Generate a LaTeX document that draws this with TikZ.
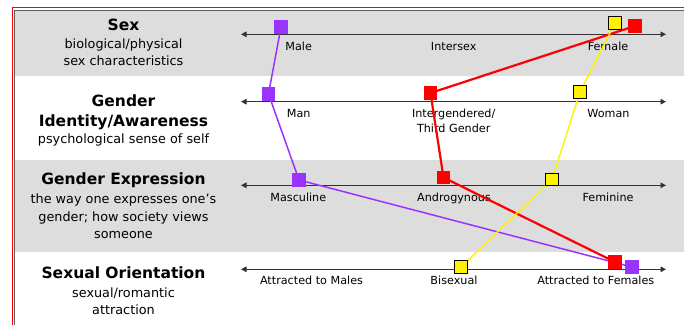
\documentclass[tikz,border=0pt]{standalone}
\usepackage{fontspec}
\setmainfont{DejaVu Sans}
\usetikzlibrary{arrows.meta}
\pgfdeclarelayer{back}
\pgfdeclarelayer{links}
\pgfsetlayers{back,links,main}
\definecolor{bandgray}{RGB}{221,221,221}
\definecolor{rulegray}{RGB}{95,95,95}
\definecolor{axisgray}{RGB}{50,50,50}
\definecolor{vpurple}{RGB}{153,51,255}
\begin{document}
\begin{tikzpicture}[x=1pt,y=-1pt,
  band/.style={fill=bandgray,draw=none},
  axisline/.style={draw=axisgray,line width=0.9pt,
    {Triangle[length=5.5pt,width=5.5pt]}-{Triangle[length=5.5pt,width=5.5pt]}},
  tick/.style={font=\fontsize{11.2}{13.5}\selectfont,anchor=base,inner sep=0pt},
  title/.style={font=\bfseries\fontsize{15.5}{18}\selectfont,anchor=base,inner sep=0pt},
  sub/.style={font=\fontsize{12.8}{15}\selectfont,anchor=base,inner sep=0pt},
  box/.style={minimum size=13.5pt,inner sep=0pt,draw=none},
  pbox/.style={box,fill=vpurple},
  rbox/.style={box,fill=red},
  ybox/.style={box,minimum size=12.5pt,fill=yellow,draw=black,line width=1.4pt},
  plink/.style={draw=vpurple,line width=1.5pt},
  rlink/.style={draw=red,line width=2.2pt},
  ylink/.style={draw=yellow,line width=1.4pt}]
\useasboundingbox (0,0) rectangle (684,324);
\clip (0,0) rectangle (684,324);

% ---------- table background, rows and borders ----------
\begin{pgfonlayer}{back}
  \fill[white] (0,0) rectangle (684,324);
  \fill[band] (14.5,10) rectangle (700,76);
  \fill[band] (14.5,160) rectangle (700,252);
  \draw[rulegray,line width=0.8pt] (14.5,340) -- (14.5,10) -- (700,10);
  \draw[red,line width=1.6pt] (12.3,340) -- (12.3,7.5) -- (700,7.5);

  % axes
  \coordinate (a1l) at (241,34.3);  \coordinate (a1r) at (666,34.3);
  \coordinate (a2l) at (241,101.7); \coordinate (a2r) at (666,101.7);
  \coordinate (a3l) at (241,185.3); \coordinate (a3r) at (666,185.3);
  \coordinate (a4l) at (241,269.3); \coordinate (a4r) at (666,269.3);
  \draw[axisline] (a1l) -- (a1r);
  \draw[axisline] (a2l) -- (a2r);
  \draw[axisline] (a3l) -- (a3r);
  \draw[axisline] (a4l) -- (a4r);

  % row titles
  \node[title] (t1)  at (123.5,30)    {Sex};
  \node[sub]   (t1a) at (123.5,48.3)  {biological/physical};
  \node[sub]   (t1b) at (123.5,65.5)  {sex characteristics};
  \node[title] (t2)  at (123.5,106)   {Gender};
  \node[title] (t2a) at (123.5,126)   {Identity/Awareness};
  \node[sub]   (t2b) at (123.5,143.3) {psychological sense of self};
  \node[title] (t3)  at (123.5,184.7) {Gender Expression};
  \node[sub]   (t3a) at (123.5,203.7) {the way one expresses one’s};
  \node[sub]   (t3b) at (123.5,221.3) {gender; how society views};
  \node[sub]   (t3c) at (123.5,238.5) {someone};
  \node[title] (t4)  at (123.5,278.7) {Sexual Orientation};
  \node[sub]   (t4a) at (123.5,297)   {sexual/romantic};
  \node[sub]   (t4b) at (123.5,314.7) {attraction};

  % axis labels
  \node[tick] (l11) at (298.7,50.7)  {Male};
  \node[tick] (l12) at (453.7,50.7)  {Intersex};
  \node[tick] (l13) at (608,50.7)    {Female};
  \node[tick] (l21) at (298.7,117.7) {Man};
  \node[tick] (l22) at (453.7,117.7) {Intergendered/};
  \node[tick] (l22b) at (453.7,132.7) {Third Gender};
  \node[tick] (l23) at (608.5,117.7) {Woman};
  \node[tick] (l31) at (298.3,201.3) {Masculine};
  \node[tick] (l32) at (454,201.3)   {Androgynous};
  \node[tick] (l33) at (608,201.3)   {Feminine};
  \node[tick] (l41) at (311.5,284.7) {Attracted to Males};
  \node[tick] (l42) at (454,284.7)   {Bisexual};
  \node[tick] (l43) at (595.8,284.7) {Attracted to Females};
\end{pgfonlayer}

% ---------- markers ----------
\node[pbox] (p1) at (281,27)    {};
\node[pbox] (p2) at (268.5,94)  {};
\node[pbox] (p3) at (299,180)   {};
\node[pbox] (p4) at (632,267)   {};
\node[rbox] (r1) at (635,26)    {};
\node[rbox] (r2) at (430.5,93)  {};
\node[rbox] (r3) at (443.5,177.5) {};
\node[rbox] (r4) at (615,262)   {};
\node[ybox] (y1) at (615,23)    {};
\node[ybox] (y2) at (580,92)    {};
\node[ybox] (y3) at (552,179.5) {};
\node[ybox] (y4) at (461,267)   {};

% ---------- profile lines ----------
\begin{pgfonlayer}{links}
  \draw[plink] (p1.center) -- (p2.center) -- (p3.center) -- (p4.center);
  \draw[rlink] (r1.center) -- (r2.center) -- (r3.center) -- (r4.center);
  \draw[ylink] (y1.center) -- (y2.center) -- (y3.center) -- (y4.center);
\end{pgfonlayer}
\end{tikzpicture}
\end{document}
